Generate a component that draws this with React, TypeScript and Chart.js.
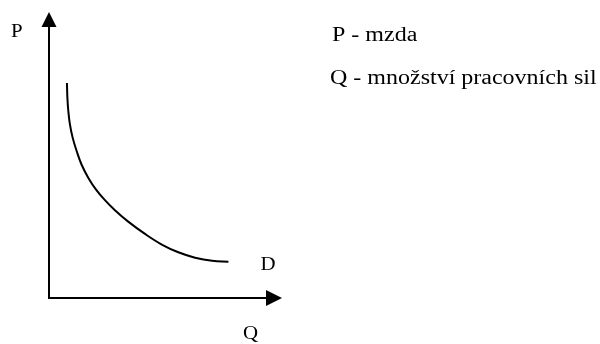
import React, { useEffect, useRef } from "react";
import { Chart, registerables } from "chart.js";

Chart.register(...registerables);

// Demand curve D: Q (quantity of labour) vs P (wage), axis units 0..10
const qValues = [0.77, 0.79, 0.83, 0.9, 1.02, 1.19, 1.4, 1.69, 2.02, 2.4, 2.83, 3.4, 4.12, 4.84, 5.55, 6.27, 7.0, 7.7];
const pValues = [7.52, 6.99, 6.53, 6.06, 5.59, 5.13, 4.66, 4.2, 3.79, 3.42, 3.07, 2.67, 2.24, 1.87, 1.6, 1.41, 1.3, 1.27];
const axisLabels = ["P", "Q"];
const curveLabel = "D";
const legendLines = ["P - mzda", "Q - množství pracovních sil"];

const FONT_FAMILY = '"Liberation Serif", "Times New Roman", serif';

function stretchedText(ctx: CanvasRenderingContext2D, text: string, x: number, y: number, size: number, sx: number) {
  ctx.save();
  ctx.translate(x, y);
  ctx.scale(sx, 1);
  ctx.font = `${size}px ${FONT_FAMILY}`;
  ctx.fillStyle = "#000";
  ctx.textAlign = "left";
  ctx.textBaseline = "alphabetic";
  ctx.fillText(text, 0, 0);
  ctx.restore();
}

const axesPlugin = {
  id: "economicAxes",
  afterDatasetsDraw(chart: any) {
    const ctx: CanvasRenderingContext2D = chart.ctx;
    const { left, right, top, bottom } = chart.chartArea;
    ctx.save();
    ctx.strokeStyle = "#000";
    ctx.fillStyle = "#000";
    ctx.lineWidth = 2;
    // Y axis
    ctx.beginPath();
    ctx.moveTo(left, bottom + 1);
    ctx.lineTo(left, top + 14);
    ctx.stroke();
    ctx.beginPath();
    ctx.moveTo(left, top);
    ctx.lineTo(left - 7.5, top + 15);
    ctx.lineTo(left + 7.5, top + 15);
    ctx.closePath();
    ctx.fill();
    // X axis
    ctx.beginPath();
    ctx.moveTo(left - 1, bottom);
    ctx.lineTo(right - 15, bottom);
    ctx.stroke();
    ctx.beginPath();
    ctx.moveTo(right, bottom);
    ctx.lineTo(right - 16, bottom - 8);
    ctx.lineTo(right - 16, bottom + 8);
    ctx.closePath();
    ctx.fill();
    ctx.restore();

    // axis labels
    stretchedText(ctx, axisLabels[0], left - 38, top + 25, 19, 1.1);
    stretchedText(ctx, axisLabels[1], right - 39, bottom + 41, 19, 1.1);

    // curve label next to its end
    const xs = chart.scales.x;
    const ys = chart.scales.y;
    const n = qValues.length;
    const ex = xs.getPixelForValue(qValues[n - 1]);
    const ey = ys.getPixelForValue(pValues[n - 1]);
    stretchedText(ctx, curveLabel, ex + 32, ey + 8, 19, 1.1);

    // legend text
    stretchedText(ctx, legendLines[0], 332, 40.5, 20, 1.2);
    stretchedText(ctx, legendLines[1], 330, 84, 20, 1.2);
  },
};

export default function App() {
  const canvasRef = useRef<HTMLCanvasElement | null>(null);

  useEffect(() => {
    if (!canvasRef.current) return;
    const chart = new Chart(canvasRef.current, {
      type: "line",
      data: {
        datasets: [
          {
            label: "D",
            data: qValues.map((q, i) => ({ x: q, y: pValues[i] })),
            borderColor: "#000",
            borderWidth: 2,
            pointRadius: 0,
            fill: false,
            tension: 0.4,
          },
        ],
      },
      options: {
        responsive: false,
        animation: false,
        layout: { padding: { left: 49, right: 318, top: 12, bottom: 46 } },
        scales: {
          x: { type: "linear", min: 0, max: 10, display: false },
          y: { type: "linear", min: 0, max: 10, display: false },
        },
        plugins: { legend: { display: false }, tooltip: { enabled: false } },
      },
      plugins: [axesPlugin],
    });
    return () => chart.destroy();
  }, []);

  return (
    <div style={{ position: "fixed", left: 0, top: 0, width: 600, height: 344, background: "#fff" }}>
      <canvas ref={canvasRef} width={600} height={344} style={{ display: "block" }} />
    </div>
  );
}
